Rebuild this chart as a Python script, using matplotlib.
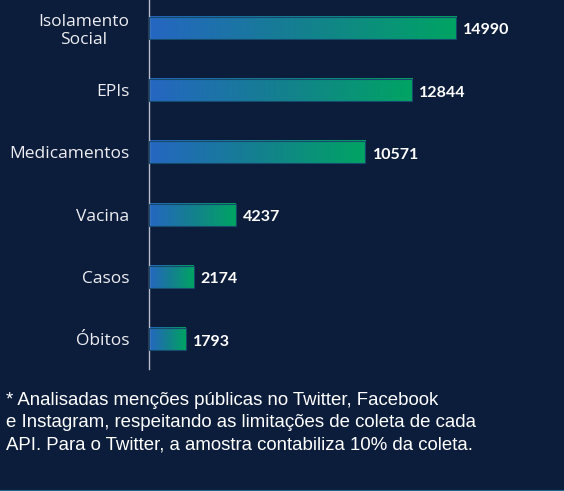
import numpy as np
import matplotlib.pyplot as plt
from matplotlib.colors import LinearSegmentedColormap

categories = ["Isolamento\nSocial", "EPIs", "Medicamentos", "Vacina", "Casos", "Óbitos"]
mentions = [14990, 12844, 10571, 4237, 2174, 1793]
footnote = ("* Analisadas menções públicas no Twitter, Facebook\n"
            "e Instagram, respeitando as limitações de coleta de cada\n"
            "API. Para o Twitter, a amostra contabiliza 10% da coleta.")

bg = "#0c1c3b"
grad = LinearSegmentedColormap.from_list("bar", ["#2566c2", "#14808f", "#00a463"])

fig = plt.figure(figsize=(5.64, 4.91), dpi=100, facecolor=bg)
ax = fig.add_axes([149 / 564, 1 - 369 / 491, 1 - 149 / 564, 369 / 491])
ax.set_facecolor(bg)

h = 0.355
xmax = 415 / 307 * 14990
g = np.linspace(0, 1, 256).reshape(1, -1)
for i, v in enumerate(mentions):
    ax.imshow(g, cmap=grad, aspect="auto", extent=[0, v, i + h / 2, i - h / 2],
              interpolation="bilinear", zorder=2)
    ax.add_patch(plt.Rectangle((0, i - h / 2), v, h, fill=False,
                               edgecolor="#164a6a", lw=0.8, zorder=3))
    ax.text(v + xmax * 0.017, i + 0.04, str(v), color="white", fontsize=11.5,
            fontweight="bold", family="Lato", va="center", ha="left")

ax.set_xlim(0, xmax)
ax.set_ylim(5.48, -0.45)
ax.set_yticks(range(len(categories)))
ax.set_yticklabels(categories, color="#eeeef2", fontsize=12.5, family="Open Sans",
                   fontweight="medium", ha="right", multialignment="center",
                   linespacing=1.15)
ax.tick_params(axis="y", length=0, pad=14)
ax.set_xticks([])
for s in ["top", "right", "bottom"]:
    ax.spines[s].set_visible(False)
ax.spines["left"].set_color("#b8bcc8")
ax.spines["left"].set_linewidth(1)

fig.text(6 / 564, 1 - 392 / 491, footnote, color="white", fontsize=13.4,
         family="Liberation Sans", va="top", ha="left", linespacing=1.4)

fig.add_artist(plt.Line2D([0, 1], [0.5 / 491, 0.5 / 491], color="#1a6a90", lw=1.5,
                          transform=fig.transFigure))

fig.savefig("out.png", dpi=100, facecolor=bg)
